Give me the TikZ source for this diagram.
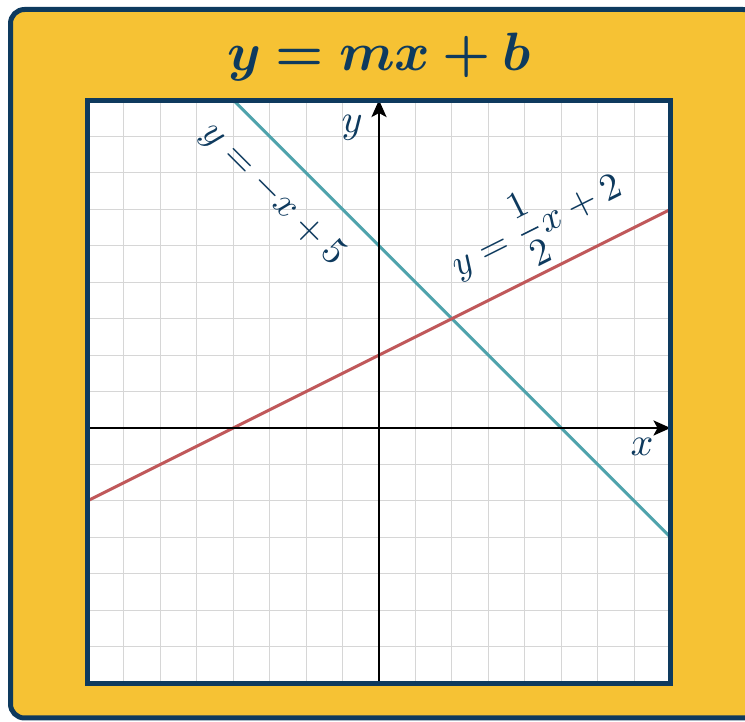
\documentclass[tikz,border=0pt]{standalone}
\usepackage{amsmath}
\usepackage{bm}
\usetikzlibrary{arrows.meta}
\definecolor{bgyellow}{HTML}{F6C234}
\definecolor{navy}{HTML}{0E3A5E}
\definecolor{tealline}{HTML}{4FA3AC}
\definecolor{redline}{HTML}{C0585A}
\definecolor{gridgray}{HTML}{D6D6D6}
\tikzset{
  axisline/.style={black, line width=2.5pt, -{Stealth[length=17pt,width=15pt,inset=4pt]}},
  graphline/.style={line width=3pt},
  lbl/.style={navy, inner sep=0pt},
}
\begin{document}
\begin{tikzpicture}[x=1pt,y=1pt]
\clip (0,0) rectangle (745,722);
\draw[navy, fill=bgyellow, line width=5pt, rounded corners=14pt] (10.5,4) rectangle (757,712.5);
\node[navy, anchor=base, inner sep=0pt] (title) at (379,651) {\scalebox{5.4}{$\bm{y = mx + b}$}};
\begin{scope}[shift={(379,294)}, x=36.44pt, y=36.44pt]
  \fill[white] (-8,-7) rectangle (8,9);
  \foreach \i in {-7,...,7} \draw[gridgray, line width=1pt] (\i,-7) -- (\i,9);
  \foreach \j in {-6,...,8} \draw[gridgray, line width=1pt] (-8,\j) -- (8,\j);
  \draw[graphline, tealline] (-4,9) -- (8,-3);
  \draw[graphline, redline] (-8,-2) -- (8,6);
  \coordinate (ybot) at (0,-7);
  \coordinate (ytop) at (0,9);
  \coordinate (xleft) at (-8,0);
  \coordinate (xright) at (8,0);
  \draw[axisline] (ybot) -- (ytop);
  \draw[axisline] (xleft) -- (xright);
  \node[lbl] (ylabel) at (-0.74,8.23) {\scalebox{4}{$y$}};
  \node[lbl] (xlabel) at (7.22,-0.52) {\scalebox{4}{$x$}};
  \node[lbl, rotate=-45] (bluelabel) at (-2.91,6.39) {\scalebox{3.8}{$y=-x+5$}};
  \node[lbl, rotate=26.57] (redlabel) at (4.31,5.57) {\scalebox{3.8}{$y=\dfrac{1}{2}x+2$}};
  \draw[navy, line width=5pt] (-8,-7) rectangle (8,9);
\end{scope}
\end{tikzpicture}
\end{document}
